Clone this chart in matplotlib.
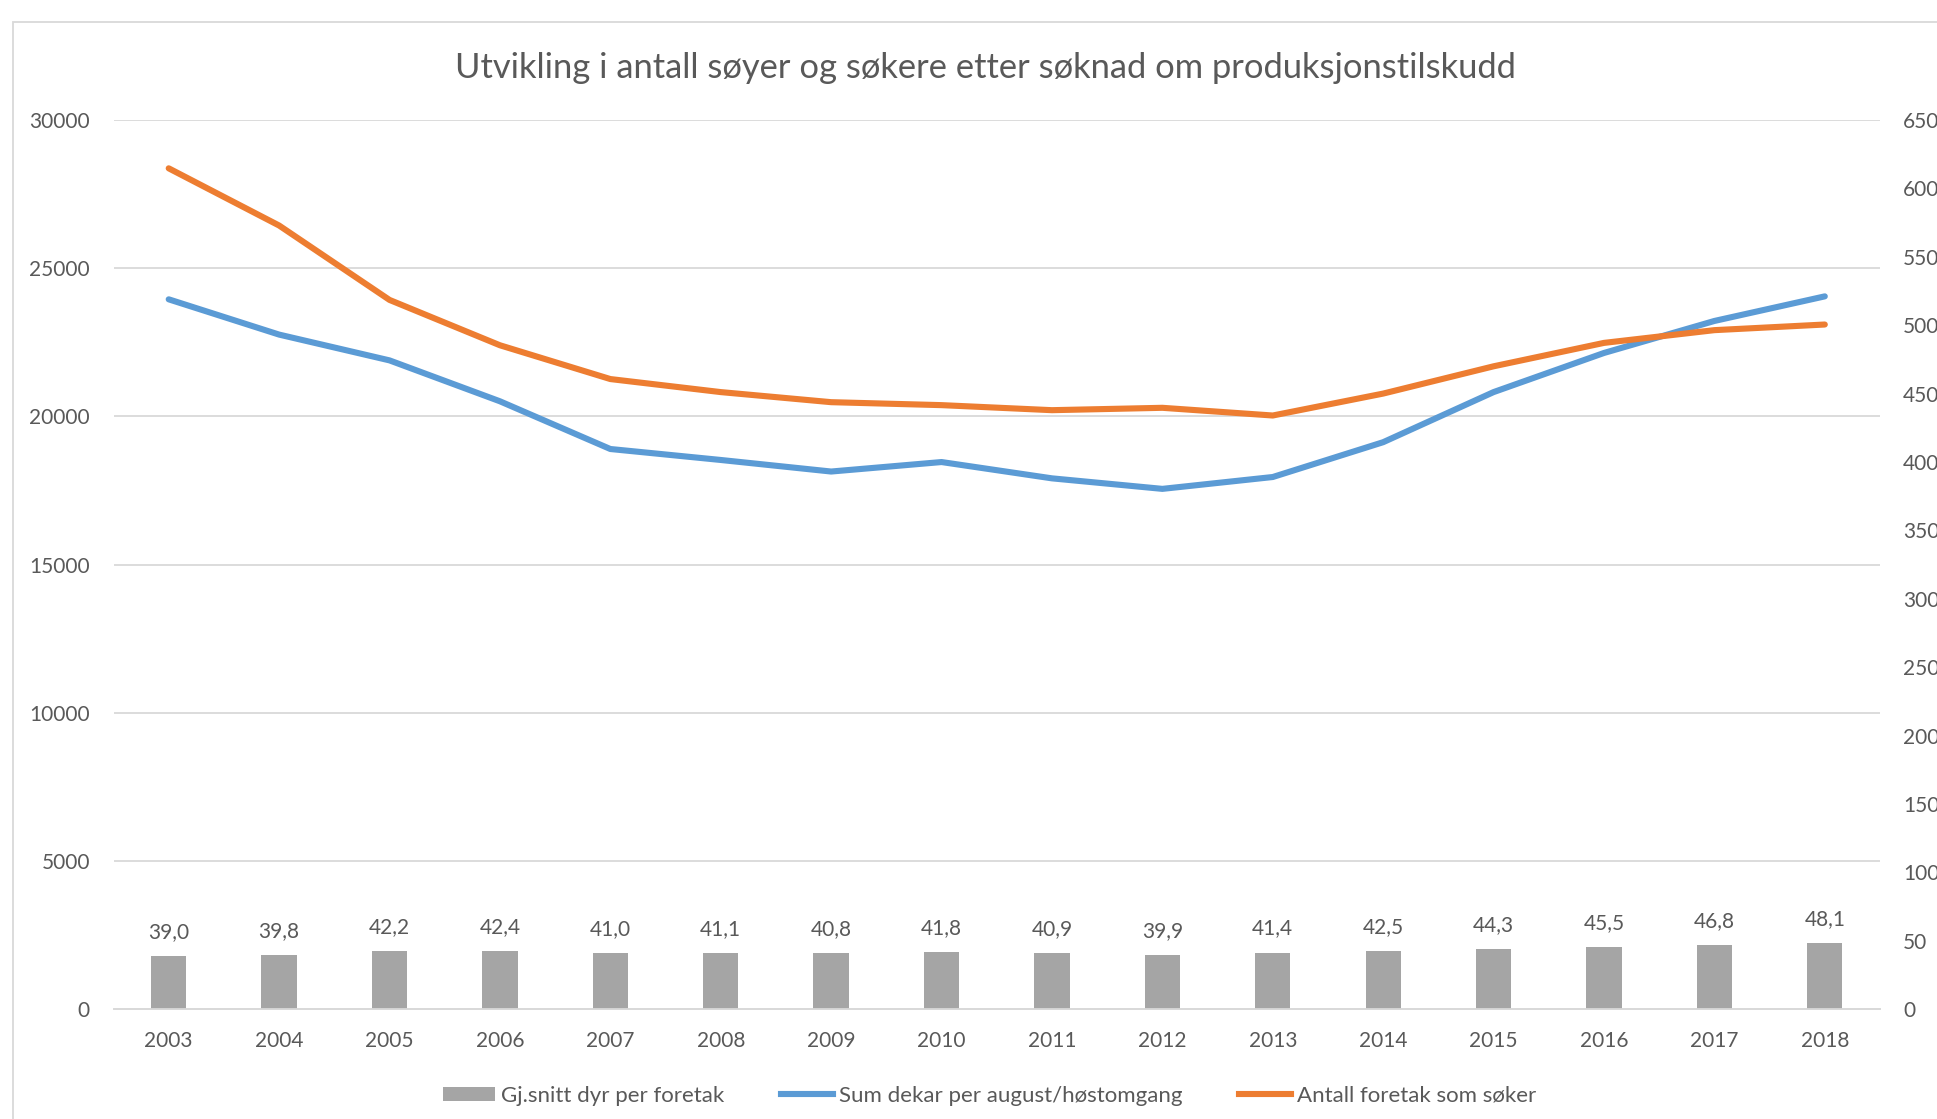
import matplotlib
matplotlib.use("Agg")
import matplotlib.pyplot as plt
from matplotlib.patches import Patch, Rectangle
from matplotlib.lines import Line2D
import numpy as np

years = ["2003", "2004", "2005", "2006", "2007", "2008", "2009", "2010",
         "2011", "2012", "2013", "2014", "2015", "2016", "2017", "2018"]
avg_animals = [39.0, 39.8, 42.2, 42.4, 41.0, 41.1, 40.8, 41.8,
               40.9, 39.9, 41.4, 42.5, 44.3, 45.5, 46.8, 48.1]
sum_dekar = [23950, 22760, 21890, 20510, 18900, 18530, 18140, 18460,
             17910, 17555, 17955, 19130, 20820, 22140, 23220, 24050]
antall_foretak = [28370, 26440, 23930, 22400, 21260, 20820, 20480, 20380,
                  20210, 20290, 20030, 20770, 21690, 22480, 22910, 23100]

title = "Utvikling i antall søyer og søkere etter søknad om produksjonstilskudd"
bar_label = "Gj.snitt dyr per foretak"
blue_label = "Sum dekar per august/høstomgang"
orange_label = "Antall foretak som søker"

TXT = "#595959"
GRID = "#d9d9d9"
BLUE = "#5b9bd5"
ORANGE = "#ed7d31"
GREY = "#a5a5a5"
FONT = ["Lato", "DejaVu Sans"]
plt.rcParams["font.family"] = FONT

W, H = 1937, 1119
fig = plt.figure(figsize=(W / 100, H / 100), dpi=100)

# chart border (cut off at right and bottom like the reference)
fig.patches.append(Rectangle((12.5 / W, -0.5), 2.0, 1 - 21.7 / H + 0.5,
                             transform=fig.transFigure, fill=False,
                             edgecolor=GRID, linewidth=1.3, clip_on=False))

left, right = 113.5 / W, 1880 / W
bottom, top = 1 - 1009.2 / H, 1 - 120 / H
ax = fig.add_axes([left, bottom, right - left, top - bottom])
ax2 = ax.twinx()

x = np.arange(len(years))

# lines on primary axis
ax.plot(x, sum_dekar, color=BLUE, lw=4.4, solid_capstyle="round", zorder=3)
ax.plot(x, antall_foretak, color=ORANGE, lw=4.4, solid_capstyle="round", zorder=3)
ax.set_ylim(0, 30000)
ax.set_yticks(np.arange(0, 30001, 5000))
ax.set_xlim(-0.5, len(years) - 0.5)
ax.set_xticks(x)
ax.set_xticklabels(years)
ax.grid(axis="y", color=GRID, lw=1.3)
ax.set_axisbelow(True)

# bars on secondary axis
bars = ax2.bar(x, avg_animals, width=0.32, color=GREY, zorder=2)
ax2.set_ylim(0, 650)
ax2.set_yticks(np.arange(0, 651, 50))
for b, v in zip(bars, avg_animals):
    ax2.annotate(f"{v:.1f}".replace(".", ","), (b.get_x() + b.get_width() / 2, v),
                 xytext=(0, 24), textcoords="offset pixels", ha="center",
                 va="center", fontsize=15, color=TXT)

for a in (ax, ax2):
    for s in ("top", "left", "right"):
        a.spines[s].set_visible(False)
    a.spines["bottom"].set_color(GRID)
    a.spines["bottom"].set_linewidth(1.3)
    a.tick_params(length=0, labelsize=15, labelcolor=TXT)

ax.tick_params(axis="y", pad=17)
ax.tick_params(axis="x", pad=16)
ax2.tick_params(axis="y", pad=16.5)
for t in ax2.get_yticklabels():
    t.set_horizontalalignment("left")

fig.text(985 / W, 1 - 68 / H, title, ha="center", va="center",
         fontsize=24.8, color=TXT)

handles = [Patch(facecolor=GREY, edgecolor="none"),
           Line2D([0], [0], color=BLUE, lw=4.4),
           Line2D([0], [0], color=ORANGE, lw=4.4)]
fig.legend(handles, [bar_label, blue_label, orange_label], loc="center",
           bbox_to_anchor=(989.5 / W, 1 - 1095.5 / H), ncol=3, frameon=False,
           fontsize=16, labelcolor=TXT, handlelength=2.35, handleheight=0.6,
           handletextpad=0.27, columnspacing=2.55)

fig.savefig("out.png", dpi=100)
